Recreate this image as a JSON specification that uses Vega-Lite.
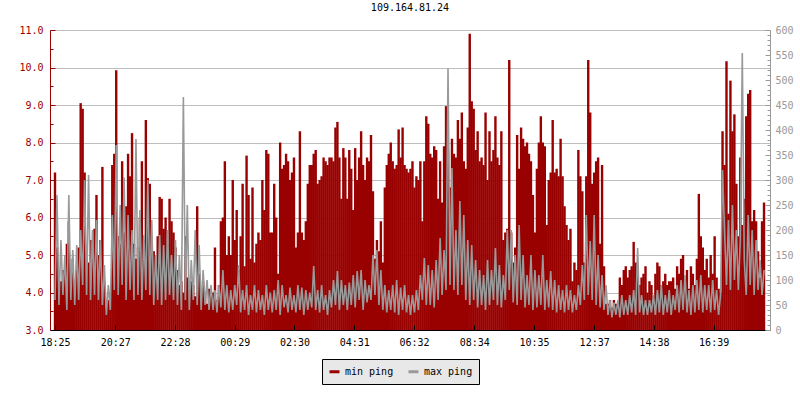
{
"$schema": "https://vega.github.io/schema/vega-lite/v6.json",
"width": 720, "height": 300,
"autosize": {"type": "none"},
"padding": {"left": 50, "top": 30, "right": 30, "bottom": 70},
"background": "white",
"title": {"text": "109.164.81.24", "font": "DejaVu Sans Mono", "fontSize": 10, "fontWeight": "normal", "color": "#000000", "offset": 12, "anchor": "middle"},
"data": {"values": [
{"t":0,"mn":7.2,"mx":60},{"t":4,"mn":5.2,"mx":270},{"t":8,"mn":4.1,"mx":50},{"t":12,"mn":4.3,"mx":180},{"t":16,"mn":4.6,"mx":70},{"t":20,"mn":4.5,"mx":150},{"t":24,"mn":5.3,"mx":40},{"t":28,"mn":5.9,"mx":270},{"t":32,"mn":4.4,"mx":60},{"t":36,"mn":4.9,"mx":160},
{"t":40,"mn":4.3,"mx":50},{"t":44,"mn":4.6,"mx":170},{"t":48,"mn":5.2,"mx":60},{"t":52,"mn":9.05,"mx":200},{"t":56,"mn":8.9,"mx":90},{"t":60,"mn":7.2,"mx":300},{"t":64,"mn":5.0,"mx":70},{"t":68,"mn":4.8,"mx":310},{"t":72,"mn":5.4,"mx":60},{"t":76,"mn":4.9,"mx":200},
{"t":80,"mn":5.7,"mx":70},{"t":84,"mn":6.6,"mx":220},{"t":88,"mn":5.0,"mx":60},{"t":92,"mn":5.4,"mx":180},{"t":96,"mn":7.35,"mx":50},{"t":100,"mn":4.3,"mx":130},{"t":104,"mn":3.6,"mx":30},{"t":108,"mn":3.8,"mx":90},{"t":112,"mn":4.0,"mx":40},{"t":116,"mn":7.4,"mx":230},
{"t":120,"mn":7.7,"mx":80},{"t":124,"mn":9.93,"mx":370},{"t":128,"mn":5.5,"mx":70},{"t":132,"mn":5.3,"mx":250},{"t":136,"mn":7.5,"mx":90},{"t":140,"mn":5.6,"mx":305},{"t":144,"mn":6.3,"mx":60},{"t":148,"mn":7.7,"mx":230},{"t":152,"mn":7.1,"mx":80},{"t":156,"mn":8.25,"mx":200},
{"t":160,"mn":5.3,"mx":60},{"t":164,"mn":4.9,"mx":382},{"t":168,"mn":5.2,"mx":70},{"t":172,"mn":6.0,"mx":240},{"t":176,"mn":7.5,"mx":60},{"t":180,"mn":5.4,"mx":190},{"t":184,"mn":8.6,"mx":80},{"t":188,"mn":7.05,"mx":300},{"t":192,"mn":6.9,"mx":70},{"t":196,"mn":5.3,"mx":220},
{"t":200,"mn":5.1,"mx":50},{"t":204,"mn":4.6,"mx":150},{"t":208,"mn":5.5,"mx":60},{"t":212,"mn":6.55,"mx":190},{"t":216,"mn":6.5,"mx":50},{"t":220,"mn":5.7,"mx":170},{"t":224,"mn":6.0,"mx":60},{"t":228,"mn":5.3,"mx":200},{"t":232,"mn":6.5,"mx":70},{"t":236,"mn":5.9,"mx":150},
{"t":240,"mn":5.6,"mx":60},{"t":244,"mn":5.2,"mx":180},{"t":248,"mn":4.6,"mx":50},{"t":252,"mn":4.2,"mx":150},{"t":256,"mn":4.3,"mx":40},{"t":260,"mn":4.0,"mx":466},{"t":264,"mn":5.5,"mx":60},{"t":268,"mn":4.4,"mx":250},{"t":272,"mn":4.1,"mx":40},{"t":276,"mn":4.3,"mx":140},
{"t":280,"mn":4.2,"mx":60},{"t":284,"mn":3.9,"mx":200},{"t":288,"mn":6.3,"mx":50},{"t":292,"mn":4.5,"mx":170},{"t":296,"mn":3.8,"mx":40},{"t":300,"mn":4.3,"mx":120},{"t":304,"mn":4.0,"mx":50},{"t":308,"mn":3.7,"mx":100},{"t":312,"mn":4.1,"mx":40},{"t":316,"mn":3.9,"mx":90},
{"t":320,"mn":4.0,"mx":40},{"t":324,"mn":5.2,"mx":80},{"t":328,"mn":3.8,"mx":35},{"t":332,"mn":4.2,"mx":90},{"t":336,"mn":5.9,"mx":45},{"t":340,"mn":6.0,"mx":120},{"t":344,"mn":7.5,"mx":40},{"t":348,"mn":5.0,"mx":90},{"t":352,"mn":5.5,"mx":35},{"t":356,"mn":5.0,"mx":80},
{"t":360,"mn":7.0,"mx":40},{"t":364,"mn":5.4,"mx":90},{"t":368,"mn":6.2,"mx":50},{"t":372,"mn":4.6,"mx":130},{"t":376,"mn":5.5,"mx":35},{"t":380,"mn":6.9,"mx":80},{"t":384,"mn":4.7,"mx":40},{"t":388,"mn":7.65,"mx":90},{"t":392,"mn":6.6,"mx":30},{"t":396,"mn":4.9,"mx":70},
{"t":400,"mn":6.8,"mx":40},{"t":404,"mn":4.8,"mx":90},{"t":408,"mn":5.3,"mx":35},{"t":412,"mn":5.6,"mx":80},{"t":416,"mn":5.4,"mx":40},{"t":420,"mn":7.0,"mx":70},{"t":424,"mn":6.2,"mx":30},{"t":428,"mn":7.8,"mx":90},{"t":432,"mn":7.7,"mx":40},{"t":436,"mn":5.6,"mx":75},
{"t":440,"mn":5.6,"mx":35},{"t":444,"mn":6.9,"mx":80},{"t":448,"mn":6.0,"mx":40},{"t":452,"mn":4.5,"mx":100},{"t":456,"mn":8.0,"mx":30},{"t":460,"mn":7.3,"mx":90},{"t":464,"mn":7.4,"mx":45},{"t":468,"mn":7.7,"mx":70},{"t":472,"mn":7.5,"mx":35},{"t":476,"mn":7.0,"mx":85},
{"t":480,"mn":7.2,"mx":40},{"t":484,"mn":7.6,"mx":70},{"t":488,"mn":5.2,"mx":35},{"t":492,"mn":5.6,"mx":90},{"t":496,"mn":8.3,"mx":40},{"t":500,"mn":5.6,"mx":85},{"t":504,"mn":5.4,"mx":30},{"t":508,"mn":5.9,"mx":80},{"t":512,"mn":6.9,"mx":40},{"t":516,"mn":7.4,"mx":75},
{"t":520,"mn":7.4,"mx":45},{"t":524,"mn":7.7,"mx":128},{"t":528,"mn":7.8,"mx":40},{"t":532,"mn":6.9,"mx":80},{"t":536,"mn":7.0,"mx":35},{"t":540,"mn":7.1,"mx":90},{"t":544,"mn":7.6,"mx":40},{"t":548,"mn":7.5,"mx":70},{"t":552,"mn":7.4,"mx":30},{"t":556,"mn":7.6,"mx":80},
{"t":560,"mn":7.6,"mx":45},{"t":564,"mn":7.5,"mx":100},{"t":568,"mn":8.4,"mx":50},{"t":572,"mn":8.55,"mx":118},{"t":576,"mn":7.6,"mx":40},{"t":580,"mn":6.5,"mx":100},{"t":584,"mn":7.85,"mx":50},{"t":588,"mn":7.6,"mx":90},{"t":592,"mn":6.5,"mx":40},{"t":596,"mn":7.8,"mx":95},
{"t":600,"mn":7.3,"mx":50},{"t":604,"mn":6.2,"mx":110},{"t":608,"mn":7.85,"mx":45},{"t":612,"mn":7.0,"mx":118},{"t":616,"mn":7.6,"mx":60},{"t":620,"mn":8.3,"mx":120},{"t":624,"mn":7.4,"mx":40},{"t":628,"mn":7.0,"mx":100},{"t":632,"mn":7.6,"mx":55},{"t":636,"mn":7.5,"mx":90},
{"t":640,"mn":8.2,"mx":60},{"t":644,"mn":6.7,"mx":150},{"t":648,"mn":4.9,"mx":70},{"t":652,"mn":5.4,"mx":160},{"t":656,"mn":5.1,"mx":50},{"t":660,"mn":5.9,"mx":120},{"t":664,"mn":4.8,"mx":40},{"t":668,"mn":6.8,"mx":90},{"t":672,"mn":7.4,"mx":35},{"t":676,"mn":7.7,"mx":80},
{"t":680,"mn":8.0,"mx":40},{"t":684,"mn":7.5,"mx":90},{"t":688,"mn":7.3,"mx":35},{"t":692,"mn":7.4,"mx":100},{"t":696,"mn":8.35,"mx":30},{"t":700,"mn":7.6,"mx":85},{"t":704,"mn":8.4,"mx":40},{"t":708,"mn":7.4,"mx":90},{"t":712,"mn":7.3,"mx":35},{"t":716,"mn":7.2,"mx":70},
{"t":720,"mn":7.3,"mx":30},{"t":724,"mn":7.5,"mx":70},{"t":728,"mn":6.8,"mx":35},{"t":732,"mn":7.1,"mx":80},{"t":736,"mn":7.0,"mx":40},{"t":740,"mn":7.5,"mx":110},{"t":744,"mn":5.9,"mx":60},{"t":748,"mn":7.5,"mx":144},{"t":752,"mn":8.7,"mx":50},{"t":756,"mn":8.5,"mx":130},
{"t":760,"mn":7.7,"mx":50},{"t":764,"mn":7.6,"mx":120},{"t":768,"mn":7.9,"mx":45},{"t":772,"mn":7.8,"mx":140},{"t":776,"mn":6.5,"mx":60},{"t":780,"mn":7.5,"mx":184},{"t":784,"mn":6.4,"mx":70},{"t":788,"mn":7.9,"mx":160},{"t":792,"mn":8.97,"mx":80},{"t":796,"mn":7.8,"mx":523},
{"t":800,"mn":6.8,"mx":90},{"t":804,"mn":8.1,"mx":324},{"t":808,"mn":7.7,"mx":80},{"t":812,"mn":7.6,"mx":200},{"t":816,"mn":8.6,"mx":70},{"t":820,"mn":8.1,"mx":258},{"t":824,"mn":8.8,"mx":90},{"t":828,"mn":7.5,"mx":230},{"t":832,"mn":7.3,"mx":60},{"t":836,"mn":8.4,"mx":180},
{"t":840,"mn":10.9,"mx":50},{"t":844,"mn":9.1,"mx":170},{"t":848,"mn":8.9,"mx":60},{"t":852,"mn":7.8,"mx":140},{"t":856,"mn":8.3,"mx":45},{"t":860,"mn":7.5,"mx":120},{"t":864,"mn":7.6,"mx":50},{"t":868,"mn":7.4,"mx":110},{"t":872,"mn":8.8,"mx":40},{"t":876,"mn":7.0,"mx":140},
{"t":880,"mn":8.3,"mx":50},{"t":884,"mn":7.5,"mx":120},{"t":888,"mn":7.8,"mx":60},{"t":892,"mn":8.7,"mx":164},{"t":896,"mn":7.6,"mx":50},{"t":900,"mn":7.4,"mx":130},{"t":904,"mn":8.3,"mx":45},{"t":908,"mn":5.4,"mx":110},{"t":912,"mn":5.6,"mx":60},{"t":916,"mn":5.7,"mx":200},
{"t":920,"mn":10.2,"mx":80},{"t":924,"mn":5.6,"mx":200},{"t":928,"mn":4.8,"mx":55},{"t":932,"mn":5.2,"mx":150},{"t":936,"mn":8.2,"mx":50},{"t":940,"mn":7.3,"mx":210},{"t":944,"mn":8.4,"mx":60},{"t":948,"mn":8.1,"mx":150},{"t":952,"mn":7.9,"mx":45},{"t":956,"mn":8.0,"mx":110},
{"t":960,"mn":7.7,"mx":50},{"t":964,"mn":7.5,"mx":150},{"t":968,"mn":6.6,"mx":40},{"t":972,"mn":5.6,"mx":120},{"t":976,"mn":7.3,"mx":45},{"t":980,"mn":8.0,"mx":110},{"t":984,"mn":8.7,"mx":50},{"t":988,"mn":8.0,"mx":150},{"t":992,"mn":7.9,"mx":40},{"t":996,"mn":5.8,"mx":100},
{"t":1000,"mn":7.0,"mx":45},{"t":1004,"mn":7.2,"mx":118},{"t":1008,"mn":8.6,"mx":40},{"t":1012,"mn":7.2,"mx":100},{"t":1016,"mn":7.3,"mx":35},{"t":1020,"mn":7.1,"mx":90},{"t":1024,"mn":8.1,"mx":40},{"t":1028,"mn":7.1,"mx":80},{"t":1032,"mn":6.3,"mx":35},{"t":1036,"mn":5.8,"mx":90},
{"t":1040,"mn":5.4,"mx":40},{"t":1044,"mn":5.7,"mx":80},{"t":1048,"mn":4.3,"mx":35},{"t":1052,"mn":4.8,"mx":70},{"t":1056,"mn":4.6,"mx":40},{"t":1060,"mn":7.8,"mx":90},{"t":1064,"mn":7.1,"mx":50},{"t":1068,"mn":6.7,"mx":130},{"t":1072,"mn":4.8,"mx":60},{"t":1076,"mn":7.1,"mx":230},
{"t":1080,"mn":10.2,"mx":70},{"t":1084,"mn":8.8,"mx":178},{"t":1088,"mn":6.9,"mx":60},{"t":1092,"mn":7.2,"mx":230},{"t":1096,"mn":7.5,"mx":50},{"t":1100,"mn":7.6,"mx":150},{"t":1104,"mn":5.3,"mx":45},{"t":1108,"mn":7.4,"mx":110},{"t":1112,"mn":4.7,"mx":40},{"t":1116,"mn":3.7,"mx":90},
{"t":1120,"mn":3.7,"mx":30},{"t":1124,"mn":3.8,"mx":60},{"t":1128,"mn":3.6,"mx":25},{"t":1132,"mn":3.8,"mx":55},{"t":1136,"mn":3.7,"mx":30},{"t":1140,"mn":3.6,"mx":60},{"t":1144,"mn":4.4,"mx":25},{"t":1148,"mn":4.2,"mx":70},{"t":1152,"mn":4.6,"mx":30},{"t":1156,"mn":4.7,"mx":60},
{"t":1160,"mn":4.4,"mx":30},{"t":1164,"mn":4.6,"mx":70},{"t":1168,"mn":4.7,"mx":35},{"t":1172,"mn":5.35,"mx":80},{"t":1176,"mn":4.8,"mx":30},{"t":1180,"mn":4.6,"mx":164},{"t":1184,"mn":4.2,"mx":35},{"t":1188,"mn":4.4,"mx":70},{"t":1192,"mn":4.5,"mx":30},{"t":1196,"mn":4.7,"mx":60},
{"t":1200,"mn":4.0,"mx":30},{"t":1204,"mn":4.3,"mx":60},{"t":1208,"mn":4.2,"mx":35},{"t":1212,"mn":3.9,"mx":70},{"t":1216,"mn":4.5,"mx":30},{"t":1220,"mn":4.8,"mx":80},{"t":1224,"mn":4.7,"mx":35},{"t":1228,"mn":4.2,"mx":90},{"t":1232,"mn":4.3,"mx":30},{"t":1236,"mn":4.5,"mx":70},
{"t":1240,"mn":4.2,"mx":35},{"t":1244,"mn":4.3,"mx":80},{"t":1248,"mn":4.3,"mx":30},{"t":1252,"mn":4.4,"mx":70},{"t":1256,"mn":4.1,"mx":40},{"t":1260,"mn":4.7,"mx":90},{"t":1264,"mn":4.5,"mx":35},{"t":1268,"mn":4.9,"mx":100},{"t":1272,"mn":5.0,"mx":40},{"t":1276,"mn":4.3,"mx":110},
{"t":1280,"mn":4.6,"mx":35},{"t":1284,"mn":4.1,"mx":80},{"t":1288,"mn":4.7,"mx":30},{"t":1292,"mn":4.5,"mx":90},{"t":1296,"mn":4.2,"mx":35},{"t":1300,"mn":4.9,"mx":100},{"t":1304,"mn":6.63,"mx":40},{"t":1308,"mn":5.5,"mx":110},{"t":1312,"mn":5.2,"mx":35},{"t":1316,"mn":4.6,"mx":90},
{"t":1320,"mn":4.9,"mx":40},{"t":1324,"mn":4.4,"mx":90},{"t":1328,"mn":5.0,"mx":35},{"t":1332,"mn":4.5,"mx":100},{"t":1336,"mn":5.5,"mx":40},{"t":1340,"mn":4.4,"mx":80},{"t":1344,"mn":4.1,"mx":30},{"t":1348,"mn":4.0,"mx":70},{"t":1352,"mn":8.3,"mx":320},{"t":1356,"mn":7.4,"mx":200},
{"t":1360,"mn":10.17,"mx":90},{"t":1364,"mn":6.1,"mx":220},{"t":1368,"mn":9.65,"mx":80},{"t":1372,"mn":8.3,"mx":250},{"t":1376,"mn":8.75,"mx":100},{"t":1380,"mn":6.9,"mx":200},{"t":1384,"mn":5.5,"mx":80},{"t":1388,"mn":7.6,"mx":180},{"t":1392,"mn":5.8,"mx":554},{"t":1396,"mn":6.5,"mx":140},
{"t":1400,"mn":8.7,"mx":70},{"t":1404,"mn":9.3,"mx":230},{"t":1408,"mn":9.4,"mx":90},{"t":1412,"mn":5.9,"mx":200},{"t":1416,"mn":6.2,"mx":70},{"t":1420,"mn":5.9,"mx":180},{"t":1424,"mn":5.1,"mx":80},{"t":1428,"mn":4.4,"mx":140},{"t":1432,"mn":5.9,"mx":70},{"t":1436,"mn":6.4,"mx":120}
]},
"layer": [
{"mark": {"type": "bar", "width": 2.4, "clip": true},
 "encoding": {
  "x": {"field": "t", "type": "quantitative", "scale": {"domain": [0, 1438], "nice": false, "zero": false},
    "axis": {"title": null, "values": [0,122,243,364,485,606,727,849,970,1092,1213,1334],
      "labelExpr": "timeFormat(datetime(2024,0,1,18,25+datum.value),'%H:%M')",
      "grid": false, "domainColor": "#000000", "tickColor": "#000000", "tickSize": -5, "labelPadding": 12,
      "labelFont": "DejaVu Sans Mono", "labelFontSize": 10, "labelColor": "#000000", "labelFlush": false, "labelOverlap": false, "zindex": 1}},
  "y": {"field": "mn", "type": "quantitative", "scale": {"domain": [3, 11], "nice": false, "zero": false},
    "axis": {"title": null, "values": [3,3.5,4,4.5,5,5.5,6,6.5,7,7.5,8,8.5,9,9.5,10,10.5,11],
      "labelExpr": "datum.value % 1 === 0 ? format(datum.value, '.1f') : ''",
      "domainColor": "#990000", "tickColor": "#990000", "labelColor": "#990000",
      "tickSize": {"condition": {"test": "datum.value % 1 !== 0", "value": -3}, "value": -5},
      "labelPadding": 12, "grid": true, "gridColor": "#bebebe",
      "gridOpacity": {"condition": {"test": "datum.value % 1 !== 0 || datum.value === 3", "value": 0}, "value": 1},
      "labelFont": "DejaVu Sans Mono", "labelFontSize": 10, "labelOverlap": false, "zindex": 0}},
  "y2": {"datum": 3},
  "color": {"datum": "min ping", "type": "nominal",
    "scale": {"domain": ["min ping", "max ping"], "range": ["#990000", "#999999"]},
    "legend": {"title": null, "orient": "none", "legendX": 272, "legendY": 329, "direction": "horizontal",
      "fillColor": "#e8e8e8", "strokeColor": "#000000", "padding": 6, "symbolType": "stroke",
      "symbolStrokeWidth": 3, "symbolSize": 100, "labelFont": "DejaVu Sans Mono", "labelFontSize": 10,
      "labelColor": "#000000", "labelOffset": 4, "columnPadding": 8,
      "encode": {"symbols": {"update": {"stroke": {"scale": "color", "field": "value"}, "strokeWidth": {"value": 3}}}}}}
 }},
{"mark": {"type": "line", "strokeWidth": 1.6, "clip": true},
 "encoding": {
  "x": {"field": "t", "type": "quantitative"},
  "y": {"field": "mx", "type": "quantitative", "scale": {"domain": [0, 600], "nice": false},
    "axis": {"orient": "right", "title": null,
      "values": [0,10,20,30,40,50,60,70,80,90,100,110,120,130,140,150,160,170,180,190,200,210,220,230,240,250,260,270,280,290,300,310,320,330,340,350,360,370,380,390,400,410,420,430,440,450,460,470,480,490,500,510,520,530,540,550,560,570,580,590,600],
      "labelExpr": "datum.value % 50 === 0 ? datum.label : ''",
      "domainColor": "#999999", "tickColor": "#999999", "labelColor": "#999999",
      "tickSize": {"condition": {"test": "datum.value % 50 !== 0", "value": -3}, "value": -5},
      "labelPadding": 10, "grid": false,
      "labelFont": "DejaVu Sans Mono", "labelFontSize": 10, "labelOverlap": false, "zindex": 1}},
  "color": {"datum": "max ping", "type": "nominal"}
 }}
],
"resolve": {"scale": {"y": "independent"}},
"config": {"view": {"stroke": null}}
}
